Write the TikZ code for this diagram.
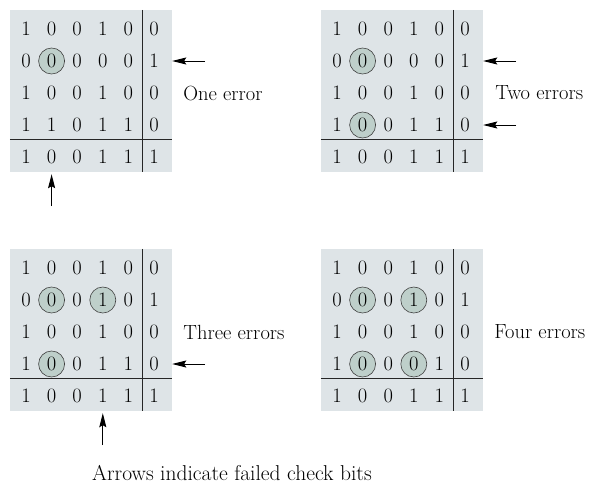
\documentclass[tikz,border=0pt]{standalone}
\usepackage{xcolor}
\usetikzlibrary{positioning,arrows.meta,backgrounds}
\definecolor{panelgray}{RGB}{222,228,231}
\definecolor{flipfill}{RGB}{190,207,202}

\begin{document}
\begin{tikzpicture}[
  x=1pt, y=-1pt,
  panel/.style={fill=panelgray, minimum width=162pt, minimum height=162pt, inner sep=0pt},
  bit/.style={inner sep=0pt, font=\fontsize{20.5}{24}\selectfont},
  flip/.style={circle, draw=black!75, line width=0.6pt, fill=flipfill, minimum size=26pt, inner sep=0pt},
  rule/.style={black!85, line width=0.8pt},
  arr/.style={-{Stealth[length=14pt,width=7pt,inset=2pt]}, line width=1pt},
  lbl/.style={anchor=west, inner sep=0pt, font=\fontsize{20.5}{24}\selectfont}
]
  \useasboundingbox (0,0) rectangle (591,485);

  % one error
  \begin{scope}[shift={(0,0)}]
    \foreach \row [count=\r] in {{1,0,0,1,0,0},{0,0,0,0,0,1},{1,0,0,1,0,0},{1,1,0,1,1,0},{1,0,0,1,1,1}}
      \foreach \b [count=\c] in \row
        \node[bit] (a-\r-\c) at ({26+25.6*(\c-1)},{29+32*(\r-1)}) {\b};
    \begin{scope}[on background layer]
      \node[panel] (pa) at (91,91) {};
      \node[flip] at (a-2-2) {};
    \end{scope}
    \draw[rule] ([xshift=51pt]pa.north) -- ([xshift=51pt]pa.south);
    \draw[rule] ([yshift=-48pt]pa.west) -- ([yshift=-48pt]pa.east);
    \coordinate (ta1) at ([xshift=33pt]pa.east |- a-2-6);
    \coordinate (ta2) at ([yshift=-34pt]pa.south -| a-5-2);
    \draw[arr] (ta1) -- (pa.east |- a-2-6);
    \draw[arr] (ta2) -- ([yshift=-2pt]pa.south -| a-5-2);
    \node[lbl] (la) at ([xshift=11pt]pa.east |- a-3-6) {One error};
  \end{scope}

  % two errors
  \begin{scope}[shift={(311,0)}]
    \foreach \row [count=\r] in {{1,0,0,1,0,0},{0,0,0,0,0,1},{1,0,0,1,0,0},{1,0,0,1,1,0},{1,0,0,1,1,1}}
      \foreach \b [count=\c] in \row
        \node[bit] (b-\r-\c) at ({26+25.6*(\c-1)},{29+32*(\r-1)}) {\b};
    \begin{scope}[on background layer]
      \node[panel] (pb) at (91,91) {};
      \node[flip] at (b-2-2) {};
      \node[flip] at (b-4-2) {};
    \end{scope}
    \draw[rule] ([xshift=51pt]pb.north) -- ([xshift=51pt]pb.south);
    \draw[rule] ([yshift=-48pt]pb.west) -- ([yshift=-48pt]pb.east);
    \coordinate (tb1) at ([xshift=33pt]pb.east |- b-2-6);
    \coordinate (tb2) at ([xshift=33pt]pb.east |- b-4-6);
    \draw[arr] (tb1) -- (pb.east |- b-2-6);
    \draw[arr] (tb2) -- (pb.east |- b-4-6);
    \node[lbl] (lb) at ([xshift=12pt]pb.east |- b-3-6) {Two errors};
  \end{scope}

  % three errors
  \begin{scope}[shift={(0,239)}]
    \foreach \row [count=\r] in {{1,0,0,1,0,0},{0,0,0,1,0,1},{1,0,0,1,0,0},{1,0,0,1,1,0},{1,0,0,1,1,1}}
      \foreach \b [count=\c] in \row
        \node[bit] (c-\r-\c) at ({26+25.6*(\c-1)},{29+32*(\r-1)}) {\b};
    \begin{scope}[on background layer]
      \node[panel] (pc) at (91,91) {};
      \node[flip] at (c-2-2) {};
      \node[flip] at (c-2-4) {};
      \node[flip] at (c-4-2) {};
    \end{scope}
    \draw[rule] ([xshift=51pt]pc.north) -- ([xshift=51pt]pc.south);
    \draw[rule] ([yshift=-48pt]pc.west) -- ([yshift=-48pt]pc.east);
    \coordinate (tc1) at ([xshift=33pt]pc.east |- c-4-6);
    \coordinate (tc2) at ([yshift=-34pt]pc.south -| c-5-4);
    \draw[arr] (tc1) -- (pc.east |- c-4-6);
    \draw[arr] (tc2) -- ([yshift=-2pt]pc.south -| c-5-4);
    \node[lbl] (lc) at ([xshift=11pt]pc.east |- c-3-6) {Three errors};
  \end{scope}

  % four errors
  \begin{scope}[shift={(311,239)}]
    \foreach \row [count=\r] in {{1,0,0,1,0,0},{0,0,0,1,0,1},{1,0,0,1,0,0},{1,0,0,0,1,0},{1,0,0,1,1,1}}
      \foreach \b [count=\c] in \row
        \node[bit] (d-\r-\c) at ({26+25.6*(\c-1)},{29+32*(\r-1)}) {\b};
    \begin{scope}[on background layer]
      \node[panel] (pd) at (91,91) {};
      \node[flip] at (d-2-2) {};
      \node[flip] at (d-2-4) {};
      \node[flip] at (d-4-2) {};
      \node[flip] at (d-4-4) {};
    \end{scope}
    \draw[rule] ([xshift=51pt]pd.north) -- ([xshift=51pt]pd.south);
    \draw[rule] ([yshift=-48pt]pd.west) -- ([yshift=-48pt]pd.east);
    \node[lbl] (ld) at ([xshift=11pt]pd.east |- d-3-6) {Four errors};
  \end{scope}

  \node[lbl, anchor=center, font=\fontsize{21.5}{25}\selectfont] (cap) at (232,473) {Arrows indicate failed check bits};
\end{tikzpicture}
\end{document}
